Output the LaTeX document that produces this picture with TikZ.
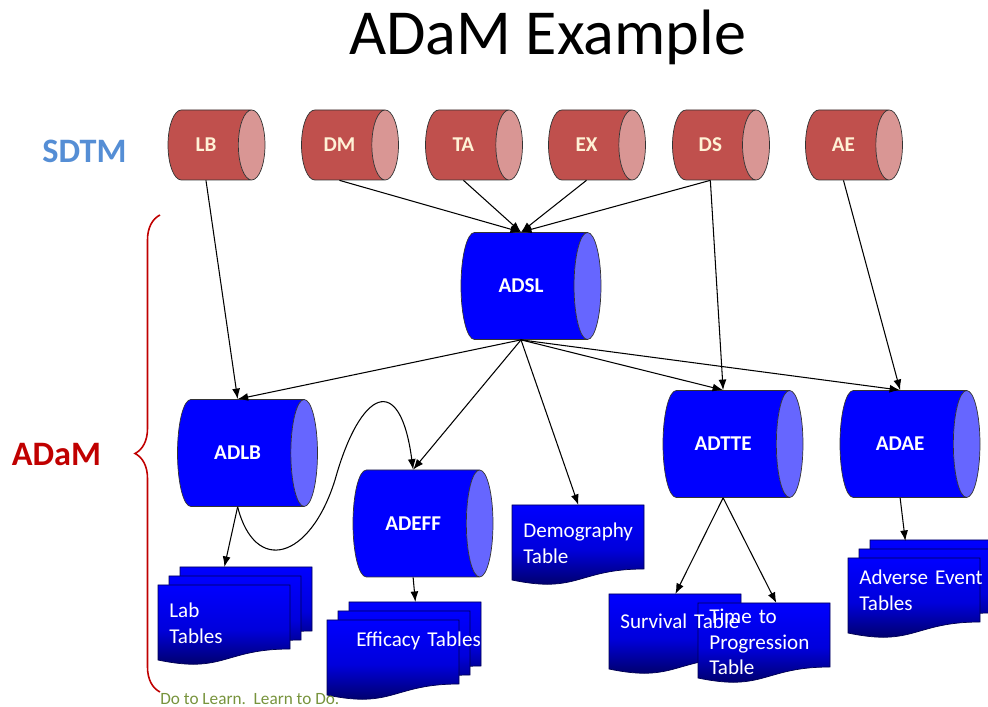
\documentclass[tikz,border=0pt]{standalone}
\usepackage{fontspec}
\setmainfont{Carlito}
\usetikzlibrary{shapes,arrows.meta,positioning,backgrounds,decorations.pathreplacing}
\definecolor{sdtmred}{RGB}{192,80,77}
\definecolor{sdtmredend}{RGB}{217,150,148}
\definecolor{sdtmtext}{RGB}{255,242,214}
\definecolor{adamblue}{RGB}{0,0,255}
\definecolor{adamblueend}{RGB}{102,102,255}
\definecolor{docnavy}{RGB}{0,0,80}
\definecolor{sdtmlabel}{RGB}{85,142,213}
\definecolor{adamlabel}{RGB}{192,0,0}
\definecolor{mottogreen}{RGB}{119,147,60}

\tikzset{
  sdtm/.style={cylinder, anchor=shape center, draw=black!80, thin, aspect=1.05, minimum width=1.4cm, minimum height=1.94cm,
    cylinder uses custom fill, cylinder body fill=sdtmred, cylinder end fill=sdtmredend,
    text=sdtmtext, font=\bfseries\fontsize{12}{14}\selectfont},
  adam/.style={cylinder, anchor=shape center, draw=black!80, thin, aspect=1.05, minimum width=2.14cm, minimum height=2.8cm,
    cylinder uses custom fill, cylinder body fill=adamblue, cylinder end fill=adamblueend,
    text=white, font=\bfseries\fontsize{12}{14}\selectfont},
  doc/.style={anchor=north west, minimum width=2.64cm, minimum height=1.28cm, text width=2.2cm,
    inner xsep=0.22cm, align=left, text=white, font=\fontsize{12}{14.5}\selectfont},
  docsheet/.style={draw=docnavy, thin, top color=adamblue, bottom color=docnavy, middle color=adamblue!80!docnavy},
  feed/.style={-{Latex[length=6pt,width=4.5pt]}, line width=0.6pt},
}

% one sheet of a table document, #1 = how far back in the stack
\newcommand{\docsheet}[2][0]{%
  \shadedraw[docsheet] ([shift={({#1*0.22},{#1*0.18})}]#2.north west) -- ++(2.64cm,0) -- ++(0,-1.28cm)
    .. controls +(-1.32cm,0) and +(1.32cm,-0.28cm) .. ++(-2.64cm,-0.22cm) -- cycle;}
% middle of a cylinder's body, top and bottom
\newcommand{\topof}[1]{(#1.center |- #1.north)}
\newcommand{\botof}[1]{(#1.center |- #1.south)}

\begin{document}
\begin{tikzpicture}
  \useasboundingbox (0,0) rectangle (19.76,14.14);

  % Title and side labels
  \node[anchor=base, font=\fontsize{36.5}{44}\selectfont] (title) at (10.95,13.04) {ADaM Example};
  \node[anchor=base, text=sdtmlabel, font=\bfseries\fontsize{19.5}{23}\selectfont] (sdtmlbl) at (1.69,10.88) {SDTM};
  \node[anchor=base, text=adamlabel, font=\bfseries\fontsize{19.5}{23}\selectfont] (adamlbl) at (1.13,4.82) {ADaM};
  \draw[adamlabel, line width=0.9pt, decorate, decoration={brace, amplitude=0.5cm}] (3.2,0.3) -- (3.2,9.84);

  % SDTM domains
  \node[sdtm] (lb) at (4.33,11.24) {LB};
  \node[sdtm] (dm) at (7.00,11.24) {DM};
  \node[sdtm] (ta) at (9.48,11.24) {TA};
  \node[sdtm] (ex) at (11.94,11.24) {EX};
  \node[sdtm] (ds) at (14.42,11.24) {DS};
  \node[sdtm] (ae) at (17.08,11.24) {AE};

  % ADaM datasets
  \node[adam] (adsl) at (10.62,8.42) {ADSL};
  \node[adam] (adlb) at (4.95,5.08) {ADLB};
  \node[adam] (adeff) at (8.46,3.67) {ADEFF};
  \node[adam] (adtte) at (14.66,5.26) {ADTTE};
  \node[adam] (adae) at (18.20,5.26) {ADAE};

  % Output tables
  \node[doc, minimum height=1.52cm] (dem) at (10.24,4.04) {Demography\\Table};
  \node[doc, minimum height=1.52cm] (lab) at (3.16,2.44) {Lab\\Tables};
  \node[doc, minimum height=0.84cm, inner xsep=0.58cm, text width=1.48cm] (eff) at (6.54,1.74) {\mbox{Efficacy Tables}};
  \node[doc, minimum height=1.08cm] (surv) at (12.18,2.26) {\mbox{Survival Table}};
  \node[doc] (ttp) at (13.96,2.08) {Time to\\Progression\\Table};
  \node[doc] (aet) at (16.96,2.98) {\mbox{Adverse Event}\\Tables};

  \begin{scope}[on background layer]
    \docsheet{dem}
    \docsheet[2]{lab} \docsheet[1]{lab} \docsheet{lab}
    \docsheet[2]{eff} \docsheet[1]{eff} \docsheet{eff}
    \docsheet{surv}
    \docsheet{ttp}
    \docsheet[2]{aet} \docsheet[1]{aet} \docsheet{aet}
  \end{scope}

  % Arrows
  \draw[feed] \botof{lb} -- \topof{adlb};
  \foreach \src in {dm,ta,ex,ds}
    \draw[feed] \botof{\src} -- \topof{adsl};
  \draw[feed] \botof{ds} -- \topof{adtte};
  \draw[feed] \botof{ae} -- \topof{adae};
  \foreach \dst in {adlb,adeff,adtte,adae}
    \draw[feed] \botof{adsl} -- \topof{\dst};
  \draw[feed] \botof{adsl} -- (dem.north);
  \draw[feed] \botof{adlb} -- ([yshift=0.36cm]lab.north);
  \draw[feed] \botof{adlb} .. controls (5.10,2.64) and (6.20,2.94) .. (6.70,4.54)
    .. controls (7.20,6.34) and (8.00,6.74) .. \topof{adeff};
  \draw[feed] \botof{adeff} -- ([shift={(0.44cm,0.36cm)}]eff.north);
  \draw[feed] \botof{adtte} -- (surv.north);
  \draw[feed] \botof{adtte} -- ([xshift=0.24cm]ttp.north);
  \draw[feed] \botof{adae} -- ([shift={(-0.18cm,0.34cm)}]aet.north);

  \node[anchor=base west, inner sep=0pt, text=mottogreen, font=\fontsize{9.8}{11}\selectfont] (motto) at (3.2,0.04) {Do to Learn.\ \ Learn to Do.};
\end{tikzpicture}
\end{document}
